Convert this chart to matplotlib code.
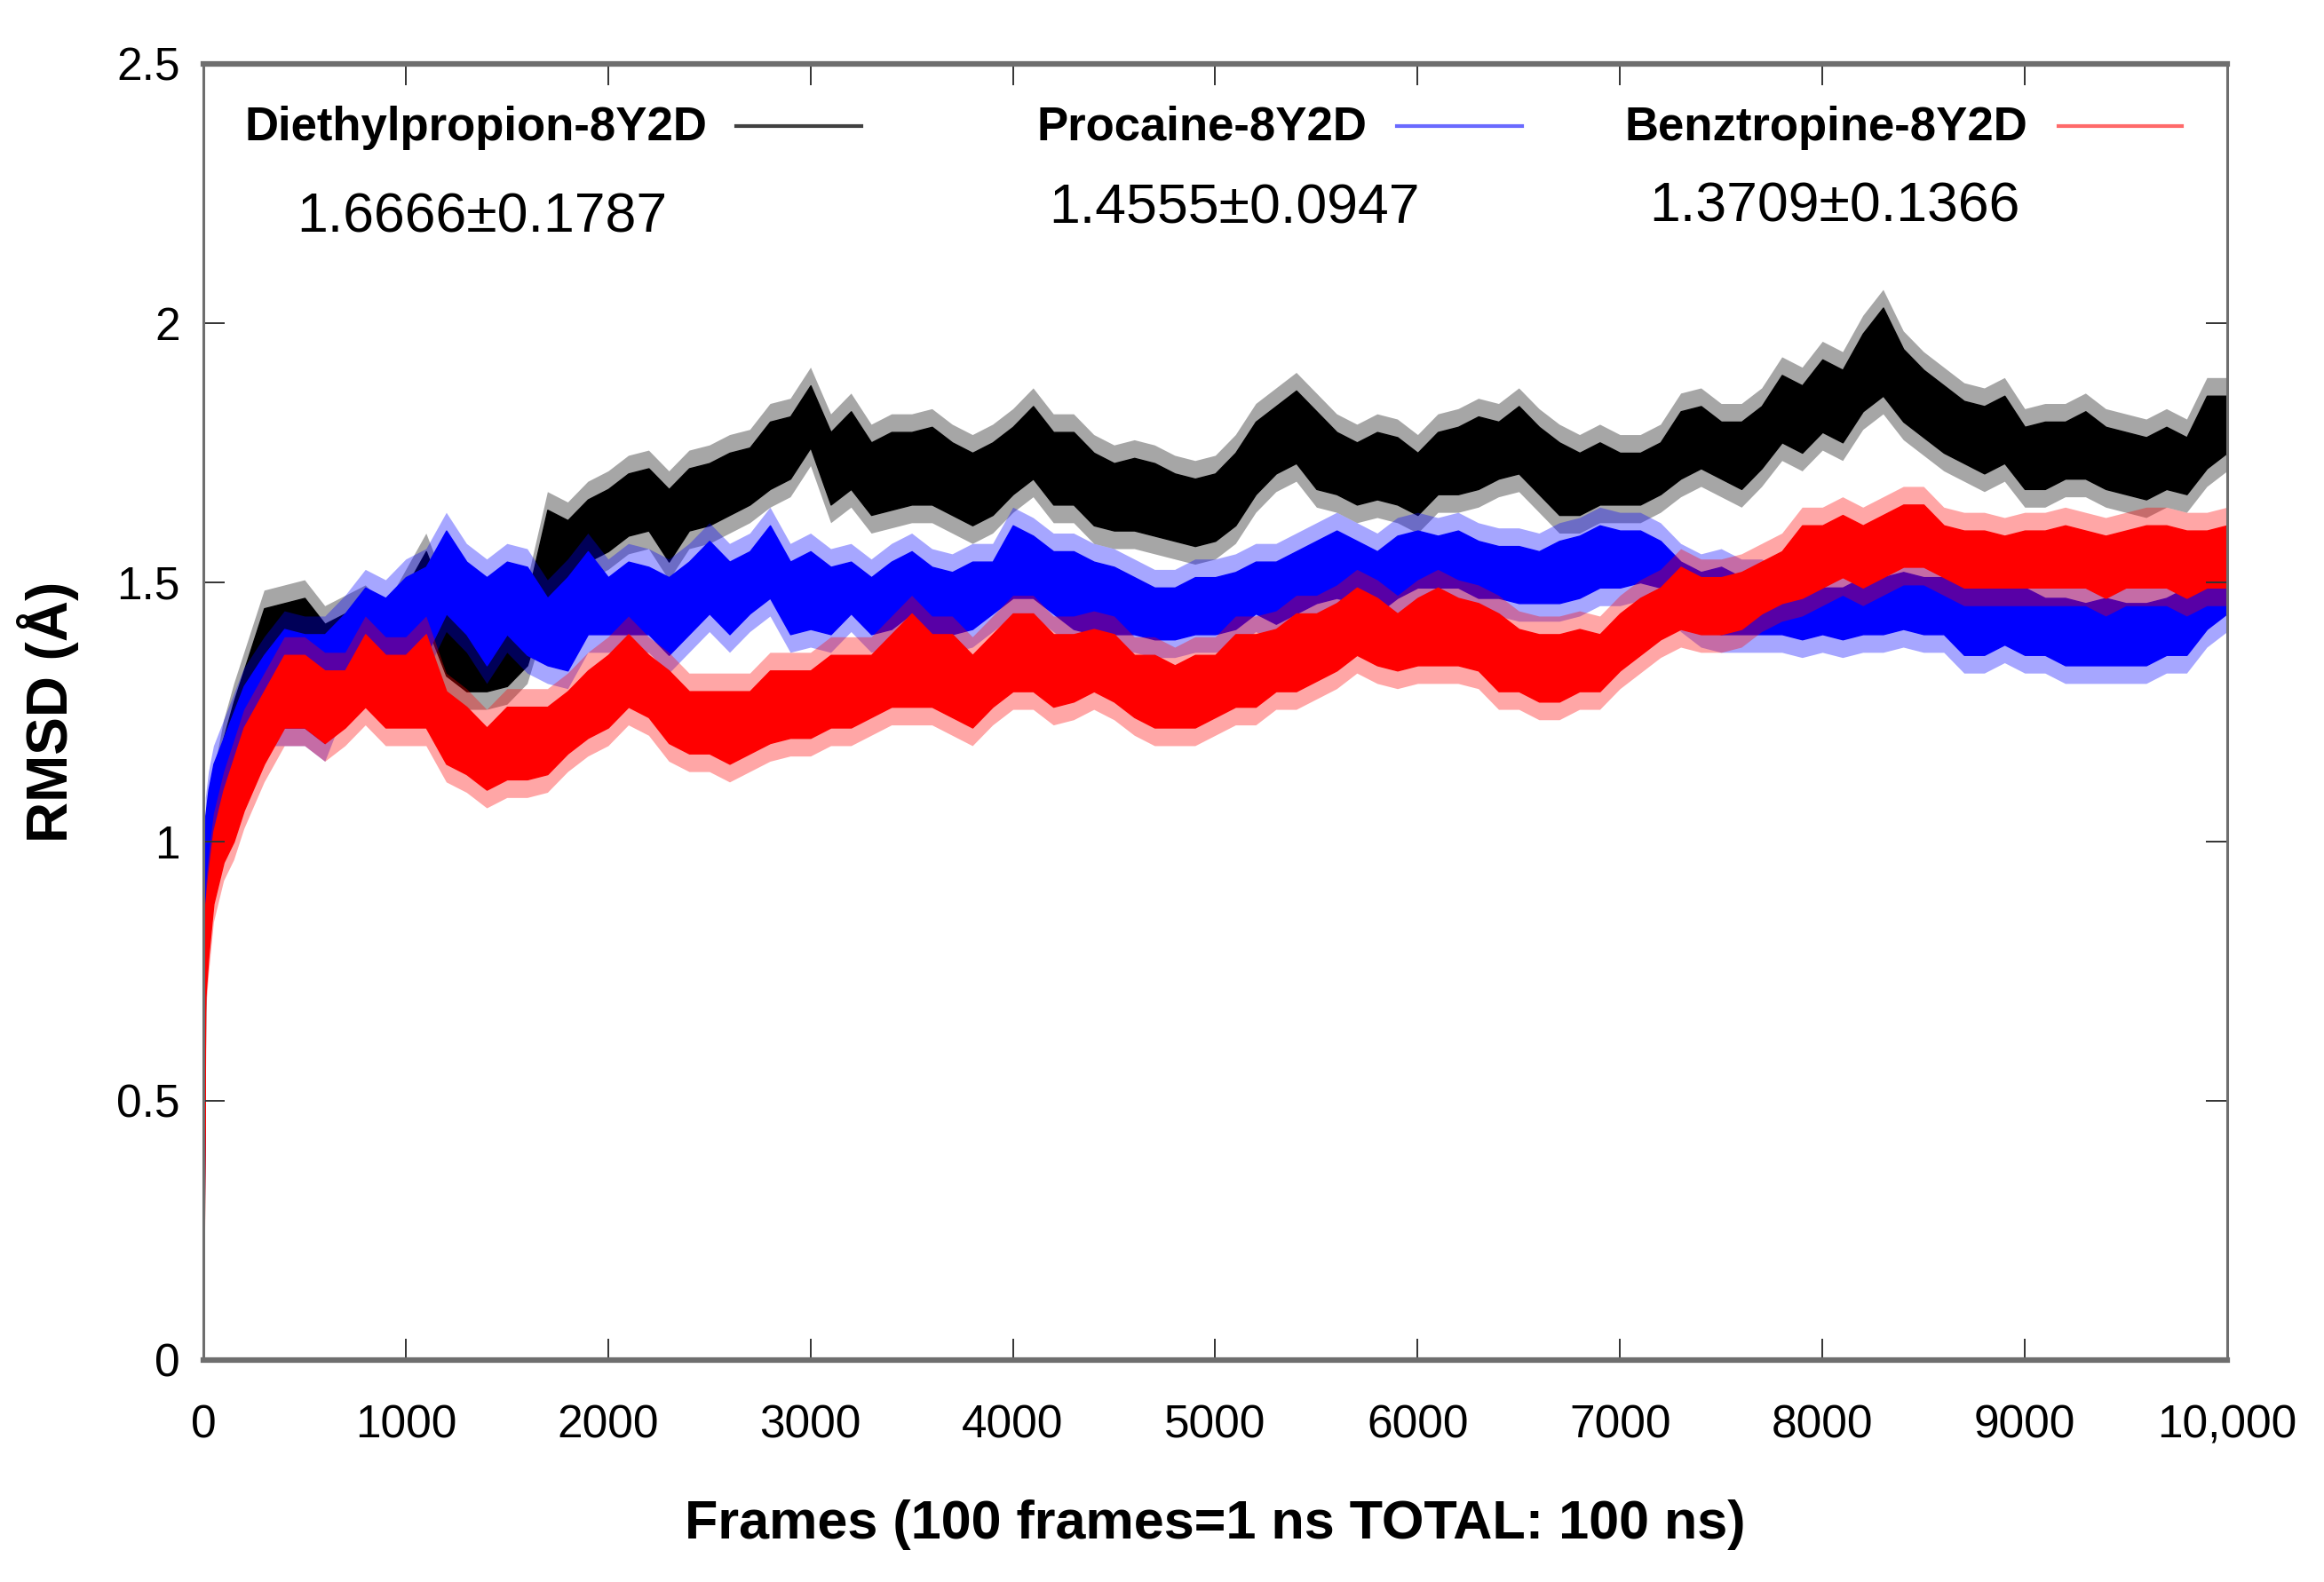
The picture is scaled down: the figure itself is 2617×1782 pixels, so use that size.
import numpy as np
import matplotlib
matplotlib.use('Agg')
import matplotlib.pyplot as plt

plt.rcParams['font.family'] = ['Liberation Sans', 'DejaVu Sans']

# frames (dense at the very start)
frames = [0, 10, 25, 50, 100, 150, 200] + list(range(300, 10001, 100))

# Diethylpropion-8Y2D (black): lower / upper edge of the noisy trace
diet_lo = [0.00, 0.75, 0.85, 0.95, 1.05, 1.15, 1.22,
           1.29, 1.33, 1.36, 1.32, 1.33, 1.34, 1.28, 1.36, 1.42, 1.32,
           1.29, 1.29, 1.30, 1.34, 1.47, 1.51, 1.54, 1.56, 1.59, 1.60,
           1.54, 1.60, 1.61, 1.63, 1.65, 1.68, 1.70, 1.76, 1.65, 1.68,
           1.63, 1.64, 1.65, 1.65, 1.63, 1.61, 1.63, 1.67, 1.70, 1.65,
           1.65, 1.61, 1.60, 1.60, 1.59, 1.58, 1.57, 1.58, 1.61, 1.67,
           1.71, 1.73, 1.68, 1.67, 1.65, 1.66, 1.65, 1.63, 1.67, 1.67,
           1.68, 1.70, 1.71, 1.67, 1.63, 1.63, 1.65, 1.65, 1.65, 1.67,
           1.70, 1.72, 1.70, 1.68, 1.72, 1.77, 1.75, 1.79, 1.77, 1.83,
           1.86, 1.81, 1.78, 1.75, 1.73, 1.71, 1.73, 1.68, 1.68, 1.70,
           1.70, 1.68, 1.67, 1.66, 1.68, 1.67, 1.72, 1.75]
diet_hi = [0.00, 0.95, 1.00, 1.10, 1.20, 1.27, 1.33,
           1.45, 1.46, 1.47, 1.42, 1.44, 1.46, 1.42, 1.49, 1.56, 1.46,
           1.42, 1.41, 1.42, 1.47, 1.64, 1.62, 1.66, 1.68, 1.71, 1.72,
           1.68, 1.72, 1.73, 1.75, 1.76, 1.81, 1.82, 1.88, 1.79, 1.83,
           1.77, 1.79, 1.79, 1.80, 1.77, 1.75, 1.77, 1.80, 1.84, 1.79,
           1.79, 1.75, 1.73, 1.74, 1.73, 1.71, 1.70, 1.71, 1.75, 1.81,
           1.84, 1.87, 1.83, 1.79, 1.77, 1.79, 1.78, 1.75, 1.79, 1.80,
           1.82, 1.81, 1.84, 1.80, 1.77, 1.75, 1.77, 1.75, 1.75, 1.77,
           1.83, 1.84, 1.81, 1.81, 1.84, 1.90, 1.88, 1.93, 1.91, 1.98,
           2.03, 1.95, 1.91, 1.88, 1.85, 1.84, 1.86, 1.80, 1.81, 1.81,
           1.83, 1.80, 1.79, 1.78, 1.80, 1.78, 1.86, 1.86]

# Procaine-8Y2D (blue)
proc_lo = [0.00, 0.85, 0.95, 1.00, 1.06, 1.12, 1.17,
           1.22, 1.22, 1.22, 1.19, 1.29, 1.33, 1.33, 1.36, 1.36, 1.44,
           1.40, 1.34, 1.40, 1.36, 1.34, 1.33, 1.40, 1.40, 1.40, 1.40,
           1.36, 1.40, 1.44, 1.40, 1.44, 1.47, 1.40, 1.41, 1.40, 1.44,
           1.40, 1.41, 1.44, 1.40, 1.40, 1.41, 1.44, 1.47, 1.47, 1.44,
           1.41, 1.40, 1.40, 1.40, 1.39, 1.39, 1.40, 1.40, 1.41, 1.44,
           1.42, 1.44, 1.46, 1.47, 1.46, 1.44, 1.47, 1.49, 1.49, 1.49,
           1.47, 1.47, 1.46, 1.46, 1.46, 1.47, 1.49, 1.49, 1.50, 1.49,
           1.44, 1.41, 1.40, 1.40, 1.40, 1.40, 1.39, 1.40, 1.39, 1.40,
           1.40, 1.41, 1.40, 1.40, 1.36, 1.36, 1.38, 1.36, 1.36, 1.34,
           1.34, 1.34, 1.34, 1.34, 1.36, 1.36, 1.41, 1.44]
proc_hi = [0.00, 1.05, 1.10, 1.15, 1.20, 1.25, 1.30,
           1.36, 1.41, 1.40, 1.40, 1.44, 1.49, 1.47, 1.51, 1.53, 1.60,
           1.54, 1.51, 1.54, 1.53, 1.47, 1.51, 1.56, 1.51, 1.54, 1.53,
           1.51, 1.54, 1.58, 1.54, 1.56, 1.61, 1.54, 1.56, 1.53, 1.54,
           1.51, 1.54, 1.56, 1.53, 1.52, 1.54, 1.54, 1.61, 1.59, 1.56,
           1.56, 1.54, 1.53, 1.51, 1.49, 1.49, 1.51, 1.51, 1.52, 1.54,
           1.54, 1.56, 1.58, 1.60, 1.58, 1.56, 1.59, 1.60, 1.59, 1.60,
           1.58, 1.57, 1.57, 1.56, 1.58, 1.59, 1.61, 1.60, 1.60, 1.58,
           1.54, 1.52, 1.53, 1.51, 1.51, 1.49, 1.49, 1.49, 1.49, 1.51,
           1.51, 1.52, 1.51, 1.51, 1.49, 1.49, 1.49, 1.49, 1.47, 1.47,
           1.46, 1.47, 1.46, 1.46, 1.47, 1.49, 1.51, 1.54]

# Benztropine-8Y2D (red)
benz_lo = [0.00, 0.70, 0.78, 0.88, 0.96, 1.00, 1.06,
           1.15, 1.22, 1.22, 1.19, 1.22, 1.26, 1.22, 1.22, 1.22, 1.15,
           1.13, 1.10, 1.12, 1.12, 1.13, 1.17, 1.20, 1.22, 1.26, 1.24,
           1.19, 1.17, 1.17, 1.15, 1.17, 1.19, 1.20, 1.20, 1.22, 1.22,
           1.24, 1.26, 1.26, 1.26, 1.24, 1.22, 1.26, 1.29, 1.29, 1.26,
           1.27, 1.29, 1.27, 1.24, 1.22, 1.22, 1.22, 1.24, 1.26, 1.26,
           1.29, 1.29, 1.31, 1.33, 1.36, 1.34, 1.33, 1.34, 1.34, 1.34,
           1.33, 1.29, 1.29, 1.27, 1.27, 1.29, 1.29, 1.33, 1.36, 1.39,
           1.41, 1.40, 1.40, 1.41, 1.44, 1.46, 1.47, 1.49, 1.51, 1.49,
           1.51, 1.53, 1.53, 1.51, 1.49, 1.49, 1.49, 1.49, 1.49, 1.49,
           1.49, 1.47, 1.49, 1.49, 1.49, 1.47, 1.49, 1.49]
benz_hi = [0.00, 0.88, 0.94, 1.02, 1.10, 1.16, 1.22,
           1.29, 1.36, 1.36, 1.33, 1.33, 1.40, 1.36, 1.36, 1.40, 1.29,
           1.26, 1.22, 1.26, 1.26, 1.26, 1.29, 1.33, 1.36, 1.40, 1.36,
           1.33, 1.29, 1.29, 1.29, 1.29, 1.33, 1.33, 1.33, 1.36, 1.36,
           1.36, 1.40, 1.44, 1.40, 1.40, 1.36, 1.40, 1.44, 1.44, 1.40,
           1.40, 1.41, 1.40, 1.36, 1.36, 1.34, 1.36, 1.36, 1.40, 1.40,
           1.41, 1.44, 1.44, 1.46, 1.49, 1.47, 1.44, 1.47, 1.49, 1.47,
           1.46, 1.44, 1.41, 1.40, 1.40, 1.41, 1.40, 1.44, 1.47, 1.49,
           1.53, 1.51, 1.51, 1.52, 1.54, 1.56, 1.61, 1.61, 1.63, 1.61,
           1.63, 1.65, 1.65, 1.61, 1.60, 1.60, 1.59, 1.60, 1.60, 1.61,
           1.60, 1.59, 1.60, 1.61, 1.61, 1.60, 1.60, 1.61]

labels = ['Diethylpropion-8Y2D', 'Procaine-8Y2D', 'Benztropine-8Y2D']
colors = ['#000000', '#0000ff', '#ff0000']
key_colors = ['#404040', '#6a6aff', '#ff6a6a']
stats = ['1.6666\u00b10.1787', '1.4555\u00b10.0947', '1.3709\u00b10.1366']

xticks = list(range(0, 10001, 1000))
xticklabels = [str(t) for t in xticks[:-1]] + ['10,000']
yticks = [0, 0.5, 1, 1.5, 2, 2.5]
yticklabels = ['0', '0.5', '1', '1.5', '2', '2.5']

fig = plt.figure(figsize=(26.17, 17.82), dpi=100)
ax = fig.add_axes([0.0875, 0.1403, 0.8708, 0.8193])

fringe = 0.035
series = [(diet_lo, diet_hi), (proc_lo, proc_hi), (benz_lo, benz_hi)]
for (lo, hi), c in zip(series, colors):
    lo = np.array(lo)
    hi = np.array(hi)
    # faint halo standing in for the noise spikes around the band
    ax.fill_between(frames, np.where(lo > 0, lo - fringe, 0), np.where(hi > 0, hi + fringe, 0),
                    color=c, alpha=0.35, lw=0)
    ax.fill_between(frames, lo, hi, color=c, lw=1.0, edgecolor=c)

ax.set_xlim(0, 10000)
ax.set_ylim(0, 2.5)
ax.set_xticks(xticks)
ax.set_xticklabels(xticklabels)
ax.set_yticks(yticks)
ax.set_yticklabels(yticklabels)
ax.tick_params(direction='in', top=True, right=True, length=17, width=1.4,
               color='#333333', labelsize=37)
ax.tick_params(axis='x', pad=36)
ax.tick_params(axis='y', pad=19)

for side in ['top', 'bottom']:
    ax.spines[side].set_linewidth(4.5)
    ax.spines[side].set_color('#6e6e6e')
for side in ['left', 'right']:
    ax.spines[side].set_linewidth(2.2)
    ax.spines[side].set_color('#6e6e6e')

ax.set_xlabel('Frames (100 frames=1 ns TOTAL: 100 ns)', fontsize=44, fontweight='bold',
              labelpad=42)
ax.set_ylabel('RMSD (\u00c5)', fontsize=46, fontweight='bold', labelpad=30)

# gnuplot-style key: text then line sample
key_text_x = [0.2488, 0.5748, 0.9013]
key_line_x = [(0.2633, 0.3251), (0.5897, 0.6516), (0.9166, 0.9776)]
for lab, kc, tx, (l0, l1) in zip(labels, key_colors, key_text_x, key_line_x):
    ax.text(tx, 0.951, lab, transform=ax.transAxes, ha='right', va='center',
            fontsize=38, fontweight='bold')
    ax.plot([l0, l1], [0.952, 0.952], transform=ax.transAxes, color=kc, lw=3)

stat_x = [0.1378, 0.5094, 0.806]
stat_y = [0.8815, 0.8884, 0.8897]
for s, sx, sy in zip(stats, stat_x, stat_y):
    ax.text(sx, sy, s, transform=ax.transAxes, ha='center', va='center', fontsize=45)

fig.savefig('out.png', dpi=100)
